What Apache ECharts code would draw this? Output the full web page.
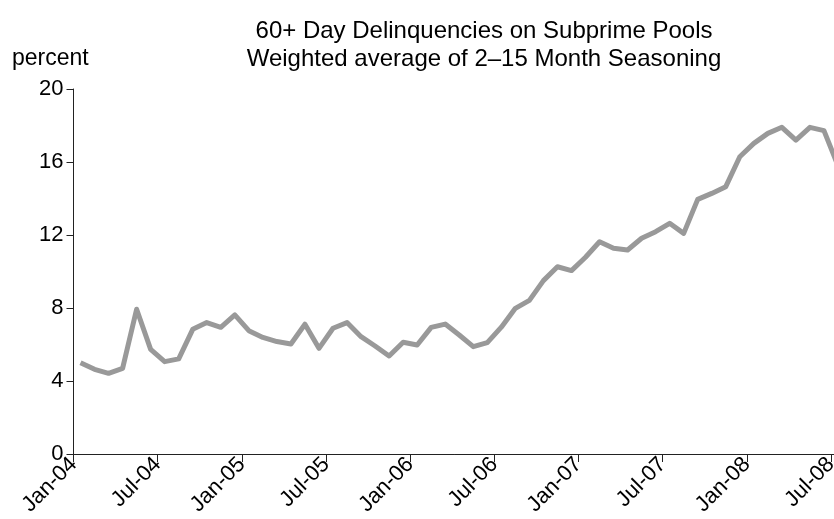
<!DOCTYPE html>
<html>
<head>
<meta charset="utf-8">
<title>60+ Day Delinquencies on Subprime Pools</title>
<script src="https://cdn.jsdelivr.net/npm/echarts@6/dist/echarts.min.js"></script>
<style>
  html, body { margin: 0; padding: 0; background: #fff; }
  #chart { width: 834px; height: 519px; }
</style>
</head>
<body>
<div id="chart"></div>
<script>
// monthly observations, Jan-04 .. Jul-08
var months = [
  'Jan-04','Feb-04','Mar-04','Apr-04','May-04','Jun-04','Jul-04','Aug-04','Sep-04','Oct-04','Nov-04','Dec-04',
  'Jan-05','Feb-05','Mar-05','Apr-05','May-05','Jun-05','Jul-05','Aug-05','Sep-05','Oct-05','Nov-05','Dec-05',
  'Jan-06','Feb-06','Mar-06','Apr-06','May-06','Jun-06','Jul-06','Aug-06','Sep-06','Oct-06','Nov-06','Dec-06',
  'Jan-07','Feb-07','Mar-07','Apr-07','May-07','Jun-07','Jul-07','Aug-07','Sep-07','Oct-07','Nov-07','Dec-07',
  'Jan-08','Feb-08','Mar-08','Apr-08','May-08','Jun-08','Jul-08'
];
var delinq = [
  5.00, 4.64, 4.42, 4.69, 7.93, 5.73, 5.06, 5.21, 6.83, 7.20, 6.94, 7.62,
  6.76, 6.39, 6.16, 6.03, 7.11, 5.79, 6.89, 7.20, 6.43, 5.92, 5.37, 6.12,
  5.97, 6.94, 7.12, 6.52, 5.88, 6.10, 6.95, 7.98, 8.42, 9.50, 10.26, 10.05,
  10.78, 11.63, 11.27, 11.18, 11.82, 12.18, 12.64, 12.09, 13.95, 14.28, 14.65, 16.29,
  17.02, 17.57, 17.90, 17.20, 17.90, 17.72, 15.80
];
var tickLabels = ['Jan-04','Jul-04','Jan-05','Jul-05','Jan-06','Jul-06','Jan-07','Jul-07','Jan-08','Jul-08'];
var yTicks = [0, 4, 8, 12, 16, 20];

var font = "'Liberation Sans', Arial, Helvetica, sans-serif";

// points sit mid-month, ticks on month starts
var seriesData = delinq.map(function (v, i) { return [i + 0.5, v]; });

var chart = echarts.init(document.getElementById('chart'));
var option = {
  backgroundColor: '#fff',
  animation: false,
  title: [
    {
      text: '60+ Day Delinquencies on Subprime Pools\nWeighted average of 2\u201315 Month Seasoning',
      left: 484,
      top: 17,
      padding: 0,
      textAlign: 'center',
      textStyle: { fontFamily: font, fontSize: 24, fontWeight: 'normal', color: '#000', lineHeight: 28 }
    },
    {
      text: 'percent',
      left: 12,
      top: 45,
      padding: 0,
      textStyle: { fontFamily: font, fontSize: 23, fontWeight: 'normal', color: '#000', lineHeight: 27 }
    }
  ],
  // plot runs a little past the right edge, the last month gets cut off there
  grid: { left: 73.5, top: 89, bottom: 65, width: 771.5, outerBoundsMode: 'none' },
  xAxis: {
    type: 'value',
    min: 0,
    max: 55,
    interval: 6,
    splitLine: { show: false },
    axisLine: { show: true, lineStyle: { color: '#222', width: 1 } },
    axisTick: { show: true, length: 8, lineStyle: { color: '#222' } },
    axisLabel: {
      rotate: 45,
      margin: 7,
      fontFamily: font,
      fontSize: 22,
      color: '#000',
      formatter: function (v) {
        return v % 6 === 0 ? (tickLabels[v / 6] || '') : '';
      }
    }
  },
  yAxis: {
    type: 'value',
    min: yTicks[0],
    max: yTicks[yTicks.length - 1],
    interval: 4,
    splitLine: { show: false },
    axisLine: { show: true, lineStyle: { color: '#222', width: 1 } },
    axisTick: { show: true, length: 7, lineStyle: { color: '#222' } },
    axisLabel: { margin: 10, fontFamily: font, fontSize: 22, color: '#000' }
  },
  series: [
    {
      name: '60+ Day Delinquencies',
      type: 'line',
      data: seriesData,
      showSymbol: false,
      lineStyle: { color: '#999999', width: 5, join: 'round' },
      emphasis: { disabled: true }
    }
  ]
};
chart.setOption(option);
</script>
</body>
</html>
